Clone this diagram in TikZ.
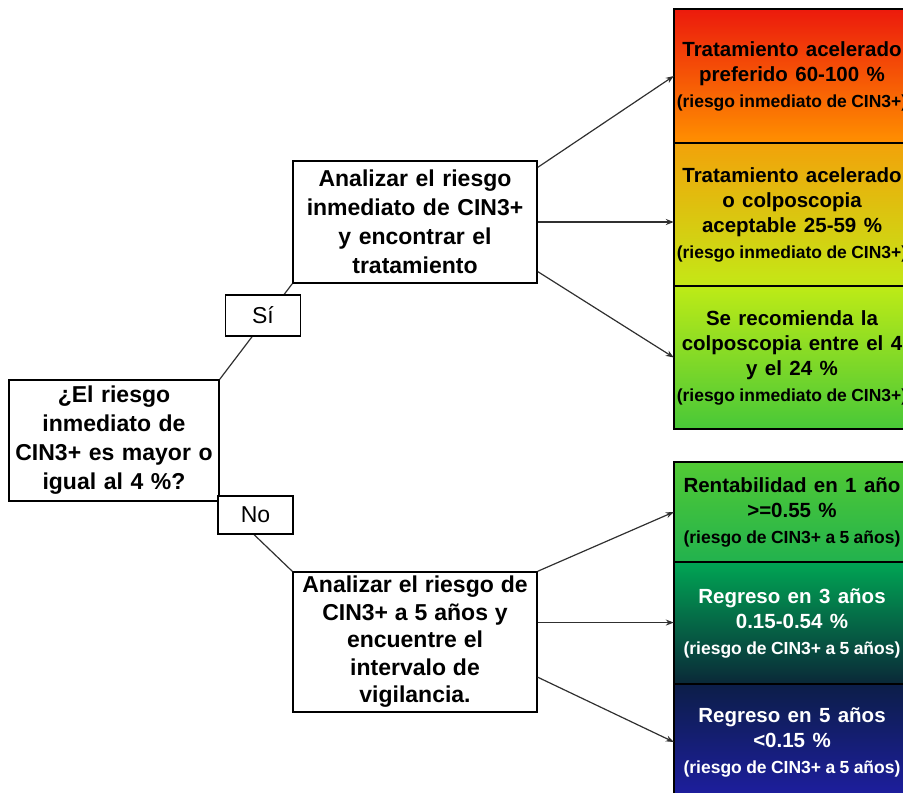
\documentclass[tikz,border=0pt]{standalone}
\usepackage{fontspec}
\setmainfont{Liberation Sans}
\usetikzlibrary{
  arrows.meta,
  backgrounds,
  positioning
}
\definecolor{rojo}{HTML}{EC1A0C}
\definecolor{naranja}{HTML}{FF9000}
\definecolor{ambar}{HTML}{F2A20A}
\definecolor{lima}{HTML}{C4E816}
\definecolor{limaclaro}{HTML}{BEEB16}
\definecolor{verde}{HTML}{48C838}
\definecolor{verdeclaro}{HTML}{52CA34}
\definecolor{verdemedio}{HTML}{22B24E}
\definecolor{verdeazul}{HTML}{00A654}
\definecolor{petroleo}{HTML}{0A2838}
\definecolor{marino}{HTML}{0C1E48}
\definecolor{azul}{HTML}{1E1EA2}
\definecolor{linea}{HTML}{303030}
\newcommand{\espacio}[1]{\spaceskip #1\relax}
\tikzset{
  paso/.style={
    draw=black,
    line width=1.5pt,
    fill=white,
    align=center,
    inner sep=2pt,
    font={\bfseries\fontsize{23}{29}\selectfont\espacio{0.33em plus 0.1em}}
  },
  etiqueta/.style={
    draw=black,
    line width=1.5pt,
    fill=white,
    minimum width=75pt,
    minimum height=39pt,
    font=\fontsize{23}{26}\selectfont
  },
  resultado/.style={
    minimum width=236pt,
    align=center,
    inner sep=0pt,
    font={\bfseries\fontsize{20.5}{25}\selectfont\espacio{0.36em plus 0.1em}}
  },
  caja/.style={draw=black, line width=1.5pt},
  conector/.style={line width=1.2pt, draw=linea},
  flecha/.style={conector, -{Stealth[length=8pt, width=6pt]}}
}
\newcommand{\riesgo}[1]{\\[1pt]{\fontsize{17.5}{20}\selectfont\espacio{0.25em}#1}}

\begin{document}
\begin{tikzpicture}[x=1pt, y=-1pt]
  \useasboundingbox (0,0) rectangle (903,793);
  \clip (0,0) rectangle (903,793);

  % pregunta y pasos de analisis
  \node[paso, minimum width=210pt, minimum height=121pt] (pregunta)
    at (114,440.5)
    {¿El riesgo\\inmediato de\\CIN3+ es mayor o\\igual al 4 \%?};
  \node[paso, minimum width=244pt, minimum height=122pt] (inmediato)
    at (415,222)
    {Analizar el riesgo\\inmediato de CIN3+\\y encontrar el\\tratamiento};
  \node[paso, minimum width=244pt, minimum height=140pt,
    font={\bfseries\fontsize{23}{27.5}\selectfont\espacio{0.3em plus 0.1em}}] (cinco)
    at (415,642)
    {Analizar el riesgo de\\CIN3+ a 5 años y\\encuentre el\\intervalo de\\vigilancia.};

  \draw[conector] (pregunta.north east) -- (inmediato.south west);
  \draw[conector] (pregunta.south east) -- (cinco.north west);
  \node[etiqueta, minimum height=41pt] (si) at (263,315.5) {Sí};
  \node[etiqueta, minimum height=38pt] (no) at (255.5,515) {No};

  % resultados del riesgo inmediato
  \node[resultado, minimum height=134pt] (preferido) at (792,76)
    {Tratamiento acelerado\\preferido 60-100 \%\riesgo{(riesgo inmediato de CIN3+)}};
  \node[resultado, minimum height=143pt] (aceptable) at (792,214.5)
    {Tratamiento acelerado\\o colposcopia\\aceptable 25-59 \%\riesgo{(riesgo inmediato de CIN3+)}};
  \node[resultado, minimum height=143pt] (colposcopia) at (792,357.5)
    {Se recomienda la\\colposcopia entre el 4\\y el 24 \%\riesgo{(riesgo inmediato de CIN3+)}};

  % resultados del riesgo a 5 anos
  \node[resultado, minimum height=100pt] (anual) at (792,512)
    {Rentabilidad en 1 año\\>=0.55 \%\riesgo{(riesgo de CIN3+ a 5 años)}};
  \node[resultado, minimum height=122pt, text=white] (tres) at (792,623)
    {Regreso en 3 años\\0.15-0.54 \%\riesgo{(riesgo de CIN3+ a 5 años)}};
  \node[resultado, minimum height=116pt, text=white] (quinto) at (792,742)
    {Regreso en 5 años\\<0.15 \%\riesgo{(riesgo de CIN3+ a 5 años)}};

  % cajas degradadas, cortadas por el borde derecho
  \begin{scope}[on background layer]
    \clip (0,0) rectangle (903,793);
    \path[caja, top color=rojo, bottom color=naranja]
      (preferido.north west) rectangle ([xshift=30pt]preferido.south east);
    \path[caja, top color=ambar, bottom color=lima]
      (aceptable.north west) rectangle ([xshift=30pt]aceptable.south east);
    \path[caja, top color=limaclaro, bottom color=verde]
      (colposcopia.north west) rectangle ([xshift=30pt]colposcopia.south east);
    \path[caja, top color=verdeclaro, bottom color=verdemedio]
      (anual.north west) rectangle ([xshift=30pt]anual.south east);
    \path[caja, top color=verdeazul, bottom color=petroleo]
      (tres.north west) rectangle ([xshift=30pt]tres.south east);
    \path[caja, top color=marino, bottom color=azul]
      (quinto.north west) rectangle ([xshift=30pt]quinto.south east);
  \end{scope}

  \draw[flecha] (inmediato.24) -- (preferido.west);
  \draw[flecha] (inmediato.east) -- (inmediato.east -| aceptable.west);
  \draw[flecha] (inmediato.-22) -- (colposcopia.west);
  \draw[flecha] (cinco.north east) -- (anual.west);
  \draw[flecha] (cinco.9) -- (cinco.9 -| tres.west);
  \draw[flecha] (cinco.-16) -- (quinto.west);
\end{tikzpicture}
\end{document}
